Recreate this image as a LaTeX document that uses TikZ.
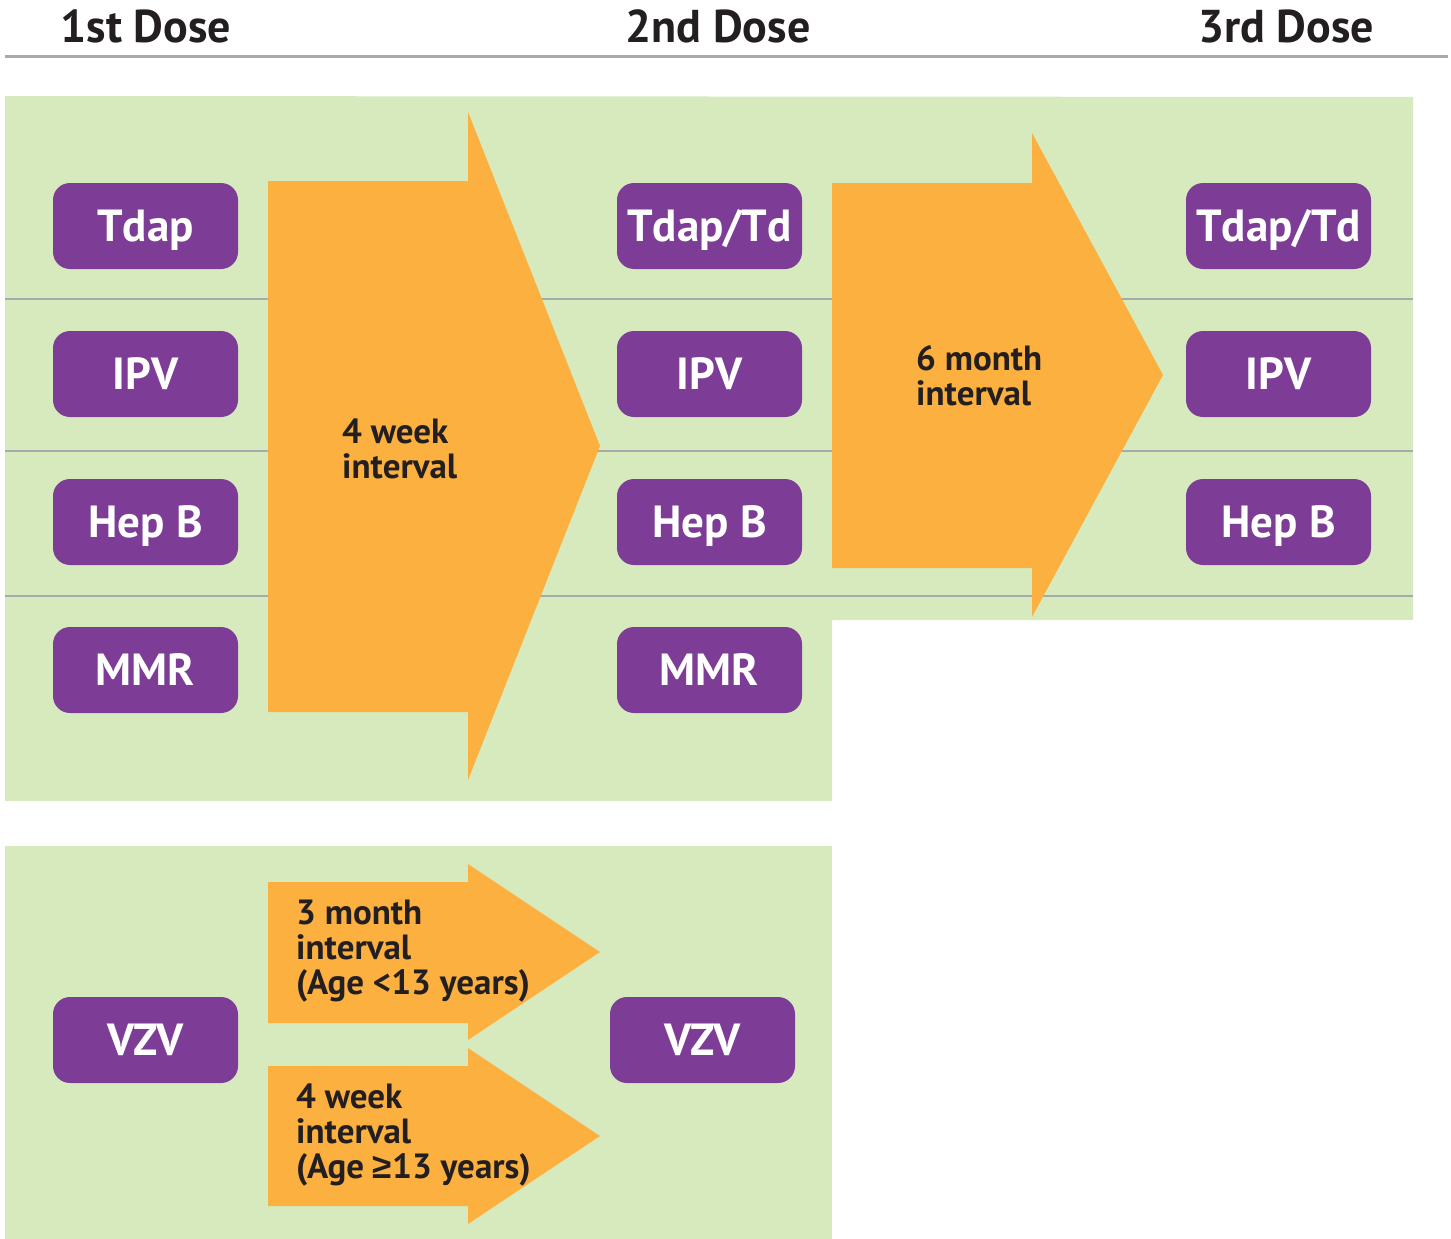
\documentclass[tikz,border=0pt]{standalone}
\usepackage{fontspec}
\setmainfont{PT Sans}
\newfontfamily\symfont{Liberation Sans}
\definecolor{vgreen}{RGB}{214,234,189}
\definecolor{vorange}{RGB}{251,176,64}
\definecolor{vpurple}{RGB}{125,61,150}
\definecolor{vgray}{RGB}{167,169,172}
\definecolor{vdark}{RGB}{35,31,32}
\begin{document}
\begin{tikzpicture}[x=1pt,y=-1pt,
  vbox/.style={fill=vpurple, rounded corners=17pt, minimum width=185pt, minimum height=86pt, inner sep=0pt, text height=31pt, text depth=0pt, text=white, font=\bfseries\fontsize{45}{48}\selectfont},
  hdr/.style={anchor=base, inner sep=0pt, text=vdark, font=\bfseries\fontsize{46}{50}\selectfont},
  lbl/.style={anchor=north west, align=left, inner sep=0pt, text=vdark, font=\bfseries\fontsize{35}{35}\selectfont},
  rowline/.style={draw=vgray, line width=2.5pt},
  panel/.style={fill=vgreen},
  arrowshape/.style={fill=vorange}]
\useasboundingbox (0,0) rectangle (1451,1239);
% headers
\node[hdr] (h1) at (146,43) {1st Dose};
\node[hdr] (h2) at (718,43) {2nd Dose};
\node[hdr] (h3) at (1286,43) {3rd Dose};
\draw[draw=vgray, line width=3pt] (5,57) -- (1448,57);
% panels
\fill[panel] (5,96) -- (1413,97) -- (1413,620) -- (832,620) -- (832,801) -- (5,801) -- cycle;
\fill[panel] (5,846) rectangle (832,1239);
% row lines
\draw[rowline] (5,299) -- (1413,299);
\draw[rowline] (5,451) -- (1413,451);
\draw[rowline] (5,596) -- (1413,596);
% arrows
\fill[arrowshape] (268,181) -- (468,181) -- (468,112) -- (600,446) -- (468,780) -- (468,712) -- (268,712) -- cycle;
\fill[arrowshape] (832,183) -- (1032,183) -- (1032,133) -- (1163,375) -- (1032,617) -- (1032,568) -- (832,568) -- cycle;
\fill[arrowshape] (268,882) -- (468,882) -- (468,864) -- (600,952) -- (468,1040) -- (468,1023) -- (268,1023) -- cycle;
\fill[arrowshape] (268,1066) -- (468,1066) -- (468,1048) -- (600,1136) -- (468,1224) -- (468,1206) -- (268,1206) -- cycle;
% arrow labels
\node[lbl] (l1) at (342,419) {4 week\\interval};
\node[lbl] (l2) at (916,345) {6 month\\interval};
\node[lbl] (l3) at (296,900) {3 month\\interval\\(Age <13 years)};
\node[lbl] (l4) at (296,1084) {4 week\\interval\\(Age {\symfont\bfseries ≥}13 years)};
% boxes
\node[vbox] (a1) at (145.5,226) {Tdap};
\node[vbox] (a2) at (145.5,374) {IPV};
\node[vbox] (a3) at (145.5,522) {Hep B};
\node[vbox] (a4) at (145.5,670) {MMR};
\node[vbox] (b1) at (709.5,226) {Tdap/Td};
\node[vbox] (b2) at (709.5,374) {IPV};
\node[vbox] (b3) at (709.5,522) {Hep B};
\node[vbox] (b4) at (709.5,670) {MMR};
\node[vbox] (c1) at (1278.5,226) {Tdap/Td};
\node[vbox] (c2) at (1278.5,374) {IPV};
\node[vbox] (c3) at (1278.5,522) {Hep B};
\node[vbox] (v1) at (145.5,1040) {VZV};
\node[vbox] (v2) at (702.5,1040) {VZV};
\end{tikzpicture}
\end{document}
